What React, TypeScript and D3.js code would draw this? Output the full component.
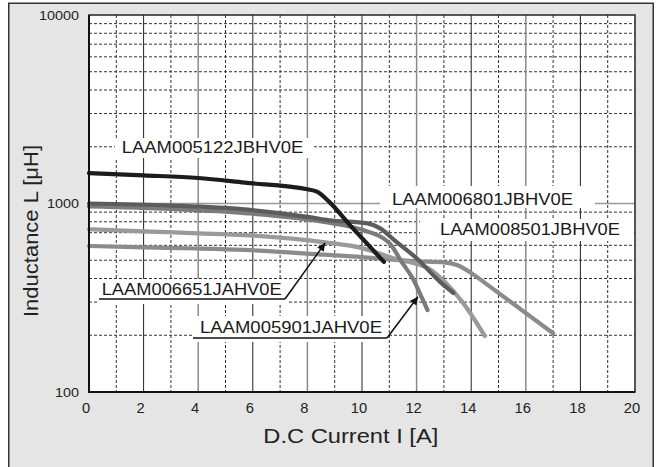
import React from 'react';
import * as d3 from 'd3';

// ---- data ----
const xTickValues = [0, 2, 4, 6, 8, 10, 12, 14, 16, 18, 20];
const yTickValues = [100, 1000, 10000];
const yMinorValues = [200, 300, 400, 500, 600, 700, 800, 900, 2000, 3000, 4000, 5000, 6000, 7000, 8000, 9000];

const seriesNames = ['LAAM005122JBHV0E', 'LAAM006801JBHV0E', 'LAAM005901JAHV0E', 'LAAM006651JAHV0E', 'LAAM008501JBHV0E'];

const current005122 = [0, 2, 4, 5.7, 8, 8.35, 8.8, 9.55, 10.4, 10.8];
const induct005122 = [1450, 1410, 1365, 1290, 1190, 1155, 1020, 770, 567, 490];

const current006801 = [0, 3, 5.7, 8, 8.8, 10.2, 10.65, 11.25, 12, 12.85, 13.35];
const induct006801 = [1000, 975, 930, 850, 815, 785, 740, 627, 512, 385, 335];

const current005901 = [0, 3, 5.7, 8.8, 10, 11, 11.45, 11.85, 12.2, 12.4];
const induct005901 = [965, 935, 890, 790, 725, 617, 491, 402, 315, 272];

const current006651 = [0, 2, 4, 5.7, 8.65, 10, 11.3, 12, 12.4, 13.1, 13.7, 14.5];
const induct006651 = [730, 712, 695, 680, 622, 580, 505, 478, 455, 375, 297, 198];

const current008501 = [0, 2, 4, 5.7, 8.65, 10, 11, 12, 13, 13.5, 14, 14.6, 17];
const induct008501 = [595, 585, 577, 567, 535, 520, 505, 494, 487, 470, 428, 370, 205];

const FONT = '"Liberation Sans", Arial, Helvetica, sans-serif';

export default function App() {
  const x = d3.scaleLinear().domain([0, 20]).range([89, 635]);
  const y = d3.scaleLog().domain([100, 10000]).range([392, 15]);
  const line = d3
    .line<[number, number]>()
    .x((d) => x(d[0]))
    .y((d) => y(d[1]))
    .curve(d3.curveMonotoneX);
  const zip = (a: number[], b: number[]) => a.map((v, i) => [v, b[i]] as [number, number]);

  const series = [
    { name: seriesNames[4], pts: zip(current008501, induct008501), color: '#8b8b8b' },
    { name: seriesNames[3], pts: zip(current006651, induct006651), color: '#9a9a9a' },
    { name: seriesNames[2], pts: zip(current005901, induct005901), color: '#7b7b7b' },
    { name: seriesNames[1], pts: zip(current006801, induct006801), color: '#5c5c5c' },
    { name: seriesNames[0], pts: zip(current005122, induct005122), color: '#1c1c1c' },
  ];

  const oddX = d3.range(1, 20, 2);
  const evenX = d3.range(2, 20, 2);

  const labels = [
    { text: seriesNames[0], x: 121.7, y: 153.3, w: 181.6, box: [115, 138, 198, 20] },
    { text: seriesNames[1], x: 392, y: 205, w: 181, box: [380, 186, 215, 22] },
    { text: seriesNames[4], x: 440, y: 235.3, w: 180, box: [420, 219, 213, 22] },
    { text: seriesNames[3], x: 101.7, y: 295, w: 180, box: [97, 279, 190, 25] },
    { text: seriesNames[2], x: 200, y: 332.5, w: 182, box: [193, 316, 195, 26] },
  ];

  const arrow6651 = { ux0: 99, ux1: 285, uy: 299, tip: [8.65, 617] };
  const arrow5901 = { ux0: 193, ux1: 387, uy: 338, tip: [12.05, 320] };

  return (
    <svg width={658} height={467} style={{ position: 'absolute', left: 0, top: 0 }} fontFamily={FONT}>
      <defs>
        <marker id="ah" viewBox="0 0 10 10" refX={10} refY={5} markerWidth={9} markerHeight={8} markerUnits="userSpaceOnUse" orient="auto">
          <path d="M0,0 L10,5 L0,10 z" fill="#111" />
        </marker>
      </defs>
      <rect x={0} y={0} width={658} height={467} fill="#fff" />
      <rect x={8.75} y={3.25} width={644.5} height={480} fill="#e5e5e5" stroke="#333" strokeWidth={1.5} />
      <rect x={89} y={15} width={546} height={377} fill="#fff" />

      {/* horizontal minor dashed */}
      {yMinorValues.map((v) => (
        <line key={'hy' + v} x1={89} x2={635} y1={y(v)} y2={y(v)} stroke="#333" strokeWidth={1} strokeDasharray="3,2" />
      ))}
      {/* 1000 solid */}
      <line x1={89} x2={635} y1={y(1000)} y2={y(1000)} stroke="#999" strokeWidth={1.5} />
      {/* vertical odd dashed */}
      {oddX.map((v) => (
        <line key={'vx' + v} x1={x(v)} x2={x(v)} y1={15} y2={392} stroke="#333" strokeWidth={1} strokeDasharray="3,2" />
      ))}
      {/* vertical even solid */}
      {evenX.map((v, i) => (
        <line key={'vs' + v} x1={x(v)} x2={x(v)} y1={15} y2={392} stroke={i % 2 === 0 ? '#222' : '#8a8a8a'} strokeWidth={i % 2 === 0 ? 1 : 1.5} />
      ))}

      {/* label boxes */}
      {labels.map((l) => (
        <rect key={'b' + l.text} x={l.box[0]} y={l.box[1]} width={l.box[2]} height={l.box[3]} fill="#fff" />
      ))}

      {/* curves */}
      {series.map((s) => (
        <path key={s.name} d={line(s.pts) || ''} fill="none" stroke={s.color} strokeWidth={4.2} strokeLinecap="round" strokeLinejoin="round" />
      ))}

      {/* plot border */}
      <rect x={89} y={15} width={546} height={377} fill="none" stroke="#222" strokeWidth={1.5} />
      <line x1={89} x2={89} y1={15} y2={393} stroke="#111" strokeWidth={2} />
      <line x1={88} x2={635} y1={392} y2={392} stroke="#111" strokeWidth={2} />

      {/* label texts */}
      {labels.map((l) => (
        <text key={'t' + l.text} x={l.x} y={l.y} fontSize={16} fill="#1a1a1a" textLength={l.w} lengthAdjust="spacingAndGlyphs">
          {l.text}
        </text>
      ))}

      {/* leaders */}
      {[arrow6651, arrow5901].map((a, i) => (
        <g key={'ar' + i}>
          <line x1={a.ux0} x2={a.ux1} y1={a.uy} y2={a.uy} stroke="#111" strokeWidth={1.5} />
          <line x1={a.ux1} y1={a.uy} x2={x(a.tip[0])} y2={y(a.tip[1])} stroke="#111" strokeWidth={1.5} markerEnd="url(#ah)" />
        </g>
      ))}

      {/* y tick labels */}
      {yTickValues.map((v) => (
        <text key={'yt' + v} x={79} y={y(v) + 4.8} fontSize={13} textAnchor="end" fill="#222"
          textLength={String(v).length * 8} lengthAdjust="spacingAndGlyphs">
          {v}
        </text>
      ))}
      {/* x tick labels */}
      {xTickValues.map((v) => (
        <text key={'xt' + v} x={x(v) - 3} y={413.3} fontSize={14} textAnchor="middle" fill="#222"
          textLength={String(v).length * 8.2} lengthAdjust="spacingAndGlyphs">
          {v}
        </text>
      ))}

      {/* axis titles */}
      <text x={263.3} y={443.3} fontSize={20} fill="#222" textLength={175} lengthAdjust="spacingAndGlyphs">
        D.C Current I [A]
      </text>
      <text transform="translate(37.5,317) rotate(-90)" x={0} y={0} fontSize={20} fill="#222" textLength={172} lengthAdjust="spacingAndGlyphs">
        Inductance L  [μH]
      </text>
    </svg>
  );
}
